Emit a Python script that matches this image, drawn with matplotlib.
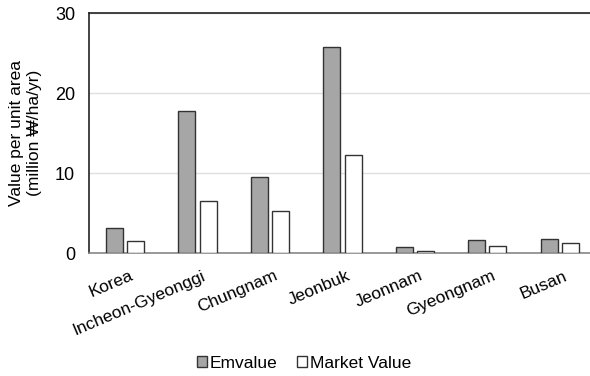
import matplotlib
matplotlib.use("Agg")
import matplotlib.pyplot as plt
import matplotlib.transforms as mtransforms
import numpy as np

plt.rcParams['font.family'] = ['Liberation Sans', 'DejaVu Sans']

categories = ["Korea", "Incheon-Gyeonggi", "Chungnam", "Jeonbuk", "Jeonnam", "Gyeongnam", "Busan"]
emvalue = [3.1, 17.7, 9.5, 25.8, 0.8, 1.6, 1.8]
market_value = [1.5, 6.5, 5.2, 12.2, 0.3, 0.85, 1.25]
yticks = [0, 10, 20, 30]

fig = plt.figure(figsize=(5.9, 3.76), dpi=100)
ax = fig.add_axes([89/590, 1-253/376, 1-89/590+0.01, 240/376])

x = np.arange(len(categories))
w = 0.235
off = 0.03
ax.bar(x - w/2 - off, emvalue, w, color='#a6a6a6', edgecolor='#333333', linewidth=1.0, label='Emvalue', zorder=3)
ax.bar(x + w/2 + off, market_value, w, color='white', edgecolor='#333333', linewidth=1.0, label='Market Value', zorder=3)

ax.set_xlim(-0.5, len(categories) - 0.5)
ax.set_ylim(0, 30)
ax.set_yticks(yticks)
ax.set_yticklabels([str(t) for t in yticks], fontsize=13)
ax.yaxis.grid(True, color='#e0e0e0', linewidth=1.0, zorder=0)
ax.set_axisbelow(True)
ax.tick_params(axis='y', length=0, pad=10)
ax.tick_params(axis='x', length=0, pad=11)
ax.set_xticks(x)
ax.set_xticklabels(categories, rotation=23, ha='right', rotation_mode='anchor', fontsize=12.5)
shift = mtransforms.ScaledTranslation(4/100, 0, fig.dpi_scale_trans)
for lab in ax.get_xticklabels():
    lab.set_transform(lab.get_transform() + shift)
for s in ['left', 'top']:
    ax.spines[s].set_color('#222222')
    ax.spines[s].set_linewidth(1.2)
ax.spines['bottom'].set_color('#888888')
ax.spines['bottom'].set_linewidth(1.2)
ax.spines['right'].set_visible(False)

fig.text(25.5/590, 1-133/376, "Value per unit area\n(million \u20a9/ha/yr)", fontsize=12.5,
         rotation=90, ha='center', va='center', multialignment='center', linespacing=1.2)

leg = fig.legend(loc='center', bbox_to_anchor=(304/590, 1-363/376), ncol=2, frameon=False,
                 fontsize=12.5, handlelength=0.6, handleheight=0.6, handletextpad=0.15, columnspacing=1.1,
                 borderpad=0, borderaxespad=0)

fig.savefig("out.png", dpi=100)
